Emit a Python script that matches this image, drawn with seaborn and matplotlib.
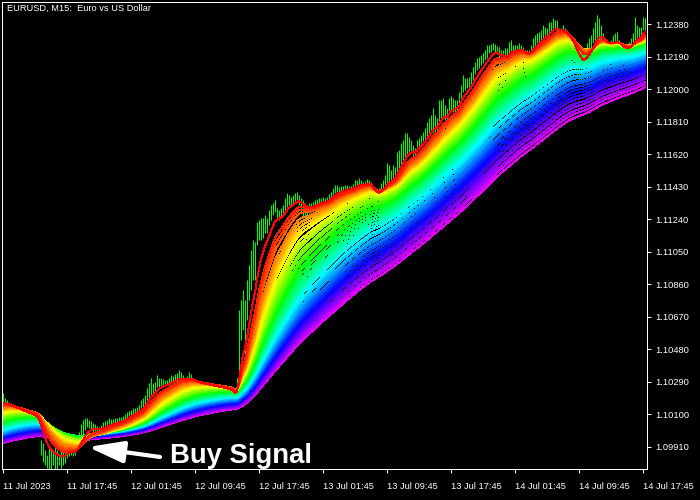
import numpy as np
import pandas as pd
import matplotlib
matplotlib.use("Agg")
import matplotlib.pyplot as plt
import seaborn as sns

# EURUSD M15 bars (11 Jul 2023 09:45 -> 14 Jul 2023 18:00)
bar_high = [
    1.10225, 1.10196, 1.10184, 1.10173, 1.10167, 1.10161, 1.10155, 1.10149, 1.10138, 1.10144,
    1.10132, 1.10126, 1.10120, 1.10126, 1.10120, 1.10114, 1.10103, 1.10091, 1.10068, 1.09951,
    1.09934, 1.09893, 1.09863, 1.09910, 1.09893, 1.09893, 1.09910, 1.09893, 1.09875, 1.09893,
    1.09904, 1.09922, 1.09951, 1.09969, 1.09922, 1.09904, 1.09916, 1.09951, 1.09998, 1.10044,
    1.10068, 1.10079, 1.10079, 1.10068, 1.10062, 1.10050, 1.10044, 1.10033, 1.10027, 1.10039,
    1.10056, 1.10062, 1.10068, 1.10079, 1.10074, 1.10074, 1.10079, 1.10079, 1.10085, 1.10085,
    1.10091, 1.10103, 1.10114, 1.10120, 1.10126, 1.10138, 1.10138, 1.10144, 1.10155, 1.10184,
    1.10196, 1.10214, 1.10255, 1.10284, 1.10313, 1.10284, 1.10290, 1.10330, 1.10313, 1.10313,
    1.10307, 1.10301, 1.10301, 1.10313, 1.10330, 1.10325, 1.10336, 1.10342, 1.10360, 1.10348,
    1.10330, 1.10313, 1.10325, 1.10348, 1.10336, 1.10313, 1.10301, 1.10290, 1.10290, 1.10284,
    1.10290, 1.10290, 1.10284, 1.10278, 1.10278, 1.10272, 1.10272, 1.10272, 1.10272, 1.10266,
    1.10266, 1.10260, 1.10255, 1.10255, 1.10249, 1.10243, 1.10231, 1.10313, 1.10710, 1.10768,
    1.10827, 1.10768, 1.10885, 1.10973, 1.11060, 1.11119, 1.11107, 1.11224, 1.11235, 1.11247,
    1.11247, 1.11265, 1.11247, 1.11294, 1.11323, 1.11335, 1.11352, 1.11306, 1.11294, 1.11306,
    1.11323, 1.11364, 1.11393, 1.11381, 1.11370, 1.11381, 1.11393, 1.11399, 1.11381, 1.11364,
    1.11352, 1.11335, 1.11323, 1.11335, 1.11335, 1.11341, 1.11352, 1.11358, 1.11364, 1.11364,
    1.11370, 1.11364, 1.11370, 1.11387, 1.11399, 1.11422, 1.11440, 1.11440, 1.11428, 1.11434,
    1.11434, 1.11440, 1.11440, 1.11434, 1.11434, 1.11446, 1.11469, 1.11469, 1.11481, 1.11469,
    1.11457, 1.11463, 1.11475, 1.11469, 1.11457, 1.11422, 1.11411, 1.11393, 1.11422, 1.11452,
    1.11469, 1.11498, 1.11568, 1.11557, 1.11527, 1.11557, 1.11545, 1.11633, 1.11644, 1.11685,
    1.11703, 1.11744, 1.11744, 1.11720, 1.11703, 1.11673, 1.11656, 1.11703, 1.11714, 1.11732,
    1.11749, 1.11773, 1.11808, 1.11831, 1.11849, 1.11889, 1.11849, 1.11831, 1.11936, 1.11936,
    1.11948, 1.11907, 1.11889, 1.11948, 1.11960, 1.11948, 1.11936, 1.11936, 1.11983, 1.12024,
    1.12082, 1.12065, 1.12065, 1.12071, 1.12100, 1.12129, 1.12158, 1.12181, 1.12187, 1.12199,
    1.12211, 1.12228, 1.12257, 1.12257, 1.12263, 1.12269, 1.12263, 1.12252, 1.12246, 1.12228,
    1.12228, 1.12240, 1.12240, 1.12275, 1.12287, 1.12257, 1.12257, 1.12257, 1.12269, 1.12257,
    1.12246, 1.12228, 1.12228, 1.12228, 1.12257, 1.12298, 1.12316, 1.12327, 1.12333, 1.12345,
    1.12374, 1.12362, 1.12357, 1.12392, 1.12392, 1.12415, 1.12403, 1.12403, 1.12357, 1.12357,
    1.12374, 1.12357, 1.12345, 1.12304, 1.12287, 1.12269, 1.12240, 1.12228, 1.12199, 1.12181,
    1.12170, 1.12228, 1.12269, 1.12298, 1.12316, 1.12357, 1.12392, 1.12433, 1.12415, 1.12374,
    1.12327, 1.12298, 1.12287, 1.12269, 1.12287, 1.12316, 1.12327, 1.12333, 1.12287, 1.12269,
    1.12269, 1.12257, 1.12257, 1.12275, 1.12298, 1.12327, 1.12421, 1.12374, 1.12362, 1.12362,
    1.12421, 1.12415,
]
bar_low = [
    1.10126, 1.10126, 1.10114, 1.10120, 1.10114, 1.10109, 1.10103, 1.10097, 1.10091, 1.10091,
    1.10079, 1.10079, 1.10074, 1.10068, 1.10062, 1.10056, 1.10044, 1.10033, 1.09974, 1.09863,
    1.09822, 1.09805, 1.09787, 1.09764, 1.09776, 1.09805, 1.09776, 1.09776, 1.09805, 1.09787,
    1.09805, 1.09817, 1.09846, 1.09858, 1.09863, 1.09858, 1.09863, 1.09893, 1.09922, 1.09969,
    1.09980, 1.10009, 1.10027, 1.10021, 1.10009, 1.09998, 1.09992, 1.09992, 1.09992, 1.09998,
    1.10009, 1.10015, 1.10021, 1.10027, 1.10033, 1.10033, 1.10039, 1.10044, 1.10044, 1.10050,
    1.10056, 1.10068, 1.10079, 1.10085, 1.10097, 1.10103, 1.10109, 1.10114, 1.10126, 1.10132,
    1.10138, 1.10155, 1.10184, 1.10202, 1.10214, 1.10225, 1.10231, 1.10260, 1.10255, 1.10260,
    1.10266, 1.10266, 1.10272, 1.10272, 1.10284, 1.10284, 1.10290, 1.10290, 1.10301, 1.10301,
    1.10290, 1.10278, 1.10278, 1.10284, 1.10278, 1.10278, 1.10266, 1.10260, 1.10255, 1.10255,
    1.10260, 1.10260, 1.10255, 1.10249, 1.10249, 1.10243, 1.10249, 1.10249, 1.10243, 1.10237,
    1.10237, 1.10231, 1.10225, 1.10220, 1.10214, 1.10184, 1.10126, 1.10225, 1.10301, 1.10535,
    1.10593, 1.10447, 1.10651, 1.10768, 1.10827, 1.10885, 1.10885, 1.11090, 1.11119, 1.11119,
    1.11130, 1.11160, 1.11160, 1.11206, 1.11235, 1.11265, 1.11282, 1.11235, 1.11235, 1.11247,
    1.11265, 1.11294, 1.11311, 1.11323, 1.11323, 1.11335, 1.11335, 1.11352, 1.11323, 1.11276,
    1.11247, 1.11235, 1.11247, 1.11276, 1.11282, 1.11294, 1.11317, 1.11323, 1.11329, 1.11335,
    1.11335, 1.11329, 1.11341, 1.11352, 1.11370, 1.11381, 1.11393, 1.11399, 1.11393, 1.11399,
    1.11405, 1.11411, 1.11411, 1.11405, 1.11399, 1.11411, 1.11428, 1.11434, 1.11440, 1.11434,
    1.11428, 1.11434, 1.11440, 1.11440, 1.11422, 1.11294, 1.11323, 1.11294, 1.11352, 1.11399,
    1.11411, 1.11428, 1.11440, 1.11428, 1.11411, 1.11469, 1.11469, 1.11510, 1.11527, 1.11545,
    1.11586, 1.11586, 1.11603, 1.11615, 1.11627, 1.11598, 1.11586, 1.11662, 1.11668, 1.11685,
    1.11697, 1.11703, 1.11726, 1.11732, 1.11761, 1.11744, 1.11749, 1.11749, 1.11808, 1.11819,
    1.11831, 1.11819, 1.11808, 1.11866, 1.11878, 1.11866, 1.11866, 1.11878, 1.11907, 1.11948,
    1.11983, 1.11995, 1.12006, 1.12012, 1.12030, 1.12053, 1.12088, 1.12111, 1.12123, 1.12141,
    1.12152, 1.12170, 1.12181, 1.12211, 1.12217, 1.12228, 1.12217, 1.12205, 1.12082, 1.12111,
    1.12170, 1.12141, 1.12100, 1.12199, 1.12217, 1.12211, 1.12211, 1.12211, 1.12217, 1.12205,
    1.12193, 1.12158, 1.12123, 1.12170, 1.12199, 1.12240, 1.12252, 1.12269, 1.12275, 1.12287,
    1.12287, 1.12310, 1.12304, 1.12327, 1.12333, 1.12345, 1.12345, 1.12333, 1.12304, 1.12304,
    1.12316, 1.12298, 1.12269, 1.12228, 1.12211, 1.12152, 1.12111, 1.12071, 1.12035, 1.12053,
    1.12053, 1.12141, 1.12170, 1.12217, 1.12228, 1.12269, 1.12287, 1.12287, 1.12287, 1.12275,
    1.12269, 1.12228, 1.12199, 1.12187, 1.12217, 1.12228, 1.12246, 1.12246, 1.12228, 1.12211,
    1.12152, 1.12170, 1.12199, 1.12217, 1.12228, 1.12246, 1.12269, 1.12269, 1.12287, 1.12287,
    1.12345, 1.12345,
]
# estimated median prices before the first visible bar (off chart), only used to warm up the MAs
warmup_median = [
    1.09775, 1.09790, 1.09782, 1.09801, 1.09815, 1.09808, 1.09826, 1.09839,
    1.09831, 1.09848, 1.09862, 1.09853, 1.09869, 1.09884, 1.09872, 1.09890,
    1.09903, 1.09894, 1.09911, 1.09922, 1.09914, 1.09932, 1.09945, 1.09936,
    1.09951, 1.09963, 1.09955, 1.09972, 1.09984, 1.09976, 1.09993, 1.10004,
    1.09996, 1.10012, 1.10023, 1.10015, 1.10031, 1.10043, 1.10036, 1.10052,
    1.10063, 1.10055, 1.10071, 1.10082, 1.10074, 1.10091, 1.10102, 1.10095,
    1.10111, 1.10118, 1.10109, 1.10126, 1.10133, 1.10124, 1.10142, 1.10151,
    1.10144, 1.10157, 1.10166, 1.10158, 1.10172, 1.10181, 1.10174, 1.10186,
]

tick_bars = [0, 32, 64, 96, 128, 160, 192, 224, 256, 288, 320]
tick_labels = ["11 Jul 2023", "11 Jul 17:45", "12 Jul 01:45", "12 Jul 09:45",
               "12 Jul 17:45", "13 Jul 01:45", "13 Jul 09:45", "13 Jul 17:45",
               "14 Jul 01:45", "14 Jul 09:45", "14 Jul 17:45"]
price_ticks = [1.09910, 1.10100, 1.10290, 1.10480, 1.10670, 1.10860, 1.11050,
               1.11240, 1.11430, 1.11620, 1.11810, 1.12000, 1.12190, 1.12380]

# rainbow of EMAs, fast (red) -> slow (magenta)
n_ma = 41
fast_period, slow_period = 8, 135
ma_periods = [int(round(fast_period * (slow_period / fast_period) ** np.sqrt(k / (n_ma - 1))))
              for k in range(n_ma)]

assert len(bar_high) == len(bar_low)
n_bars = len(bar_high)
bars = np.arange(n_bars)
high = np.array(bar_high)
low = np.array(bar_low)

# moving averages on the median price
median = pd.Series(warmup_median + list((high + low) / 2))
frames = []
for k, p in enumerate(ma_periods):
    ema = median.ewm(span=p, adjust=False).mean().to_numpy()[-n_bars:]
    frames.append(pd.DataFrame({"bar": bars, "value": ema, "ma": f"MA{k:02d} ({p})"}))
ma_long = pd.concat(frames, ignore_index=True)

ma_names = list(dict.fromkeys(ma_long["ma"]))
hsv = sns.color_palette("hsv", as_cmap=True)
ma_colors = {name: hsv(v) for name, v in zip(ma_names, np.linspace(0, 0.83, len(ma_names)))}

sns.set_theme(style="dark", rc={
    "axes.facecolor": "black", "figure.facecolor": "black",
    "axes.edgecolor": "white", "axes.linewidth": 0.72,
    "text.color": "white", "xtick.color": "white", "ytick.color": "white",
})
plt.rcParams["font.family"] = ["Liberation Sans", "DejaVu Sans"]

fig = plt.figure(figsize=(7, 5), dpi=100)
ax = fig.add_axes([2 / 700, 31 / 500, 645 / 700, 467 / 500])

# price bars first, rainbow on top (slowest drawn first, red last)
ax.vlines(bars, low, high, color="#00ff00", linewidth=0.72, snap=True, zorder=1)
sns.lineplot(data=ma_long, x="bar", y="value", hue="ma", hue_order=ma_names[::-1],
             palette=ma_colors, legend=False, estimator=None, sort=False,
             linewidth=0.72, antialiased=False, ax=ax)

ax.set_xlim(-0.5, n_bars)
ax.set_ylim(1.097815, 1.125085)
ax.grid(False)
ax.set_xlabel("")
ax.set_ylabel("")
for s in ax.spines.values():
    s.set_visible(True)
    s.set_color("white")
    s.set_linewidth(0.72)

ax.yaxis.tick_right()
ax.set_yticks(price_ticks)
ax.set_yticklabels([f"{v:.5f}" for v in price_ticks])
ax.set_xticks(tick_bars)
ax.set_xticklabels(tick_labels, ha="left")
ax.tick_params(axis="y", direction="out", length=2.9, width=0.72, pad=3, labelsize=6.7,
               right=True, left=False)
ax.tick_params(axis="x", direction="out", length=2.9, width=0.72, pad=6.5, labelsize=6.7,
               bottom=True)

ax.text(0.0078, 0.9957, "EURUSD, M15:  Euro vs US Dollar", transform=ax.transAxes,
        ha="left", va="top", fontsize=6.7, color="white")

ax.text(0.2605, 0.0128, "Buy Signal", transform=ax.transAxes, ha="left", va="baseline",
        fontsize=19.8, fontweight="bold", color="white")
ax.annotate("", xy=(0.1333, 0.0471), xytext=(0.245, 0.0257), xycoords="axes fraction",
            arrowprops=dict(arrowstyle="-|>,head_length=1.8,head_width=0.55",
                            color="white", lw=3, shrinkA=0, shrinkB=0))

fig.savefig("out.png", dpi=100, facecolor="black")
